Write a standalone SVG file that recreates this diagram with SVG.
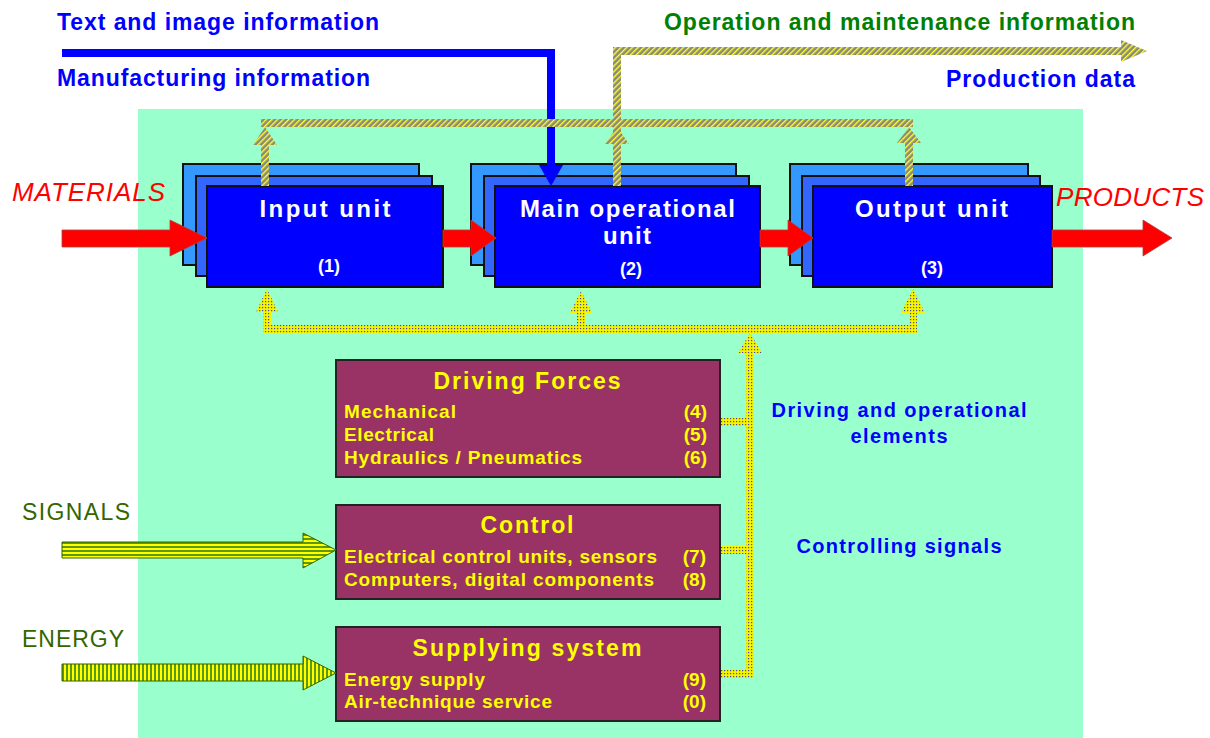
<svg xmlns="http://www.w3.org/2000/svg" width="1210" height="738" viewBox="0 0 1210 738">
<defs>
<pattern id="hatch" patternUnits="userSpaceOnUse" width="4" height="4" patternTransform="rotate(45)">
<rect width="4" height="4" fill="#8a8a78"/>
<rect width="1.4" height="4" fill="#ffff33"/>
</pattern>
<pattern id="dots" patternUnits="userSpaceOnUse" width="3" height="3">
<rect width="3" height="3" fill="#f4f400"/>
<rect x="1" y="1" width="1.2" height="1.2" fill="#4a4aa0"/>
</pattern>
<pattern id="hstripe" patternUnits="userSpaceOnUse" width="4" height="4">
<rect width="4" height="4" fill="#ffff00"/>
<rect y="2" width="4" height="2" fill="#5c9a00"/>
</pattern>
<pattern id="vstripe" patternUnits="userSpaceOnUse" width="4" height="4">
<rect width="4" height="4" fill="#ffff00"/>
<rect x="2" width="2" height="4" fill="#5c9a00"/>
</pattern>
</defs>
<style>
.t{font-family:"Liberation Sans",Arial,sans-serif;font-weight:bold}
.info{font-size:23px;fill:#0000ff}
.flow{font-size:26px;font-style:italic;fill:#ff0000;font-weight:normal}
.unit{font-size:24px;fill:#ffffff}
.num{font-size:18px;fill:#ffffff}
.ptitle{font-size:23px;fill:#ffff00}
.item{font-size:19px;fill:#ffff00}
.lbl{font-size:20px;fill:#0000ff}
.inp{font-size:23px;fill:#336600;font-weight:normal}
.b1{fill:#0000ff;stroke:#111;stroke-width:2}
.b2{fill:#3366ff;stroke:#111;stroke-width:2}
.b3{fill:#3399ff;stroke:#111;stroke-width:2}
.pb{fill:#993366;stroke:#222;stroke-width:2}
.red{fill:#ff0000;stroke:#b04040;stroke-width:0.8}
.h{fill:url(#hatch)}
.d{fill:url(#dots)}
</style>
<rect x="138" y="109" width="945" height="629" fill="#99ffcc"/>
<g id="labels">
<text class="t info" x="57" y="30" textLength="322">Text and image information</text>
<text class="t info" x="57" y="86" textLength="313">Manufacturing information</text>
<text class="t info" x="664" y="30" textLength="471" style="fill:#008000">Operation and maintenance information</text>
<text class="t info" x="946" y="87" textLength="189">Production data</text>
<text class="t flow" x="12" y="201" textLength="153">MATERIALS</text>
<text class="t flow" x="1056" y="206" textLength="148">PRODUCTS</text>
<text class="t lbl" x="899" y="417" text-anchor="middle" textLength="255">Driving and operational</text>
<text class="t lbl" x="899" y="443" text-anchor="middle" textLength="97">elements</text>
<text class="t lbl" x="899" y="553" text-anchor="middle" textLength="205">Controlling signals</text>
<text class="t inp" x="22" y="520" textLength="108">SIGNALS</text>
<text class="t inp" x="22" y="647" textLength="102">ENERGY</text>
</g>
<g id="input-unit">
<rect class="b3" x="183" y="164" width="236" height="101"/>
<rect class="b2" x="196" y="176" width="236" height="100"/>
<rect class="b1" x="207" y="186" width="236" height="101"/>
<text class="t unit" x="325" y="217" text-anchor="middle" textLength="131">Input unit</text>
<text class="t num" x="329" y="272" text-anchor="middle">(1)</text>
</g>
<g id="main-unit">
<rect class="b3" x="471" y="164" width="265" height="101"/>
<rect class="b2" x="484" y="176" width="265" height="100"/>
<rect class="b1" x="495" y="186" width="265" height="101"/>
<text class="t unit" x="627.5" y="217" text-anchor="middle" textLength="215">Main operational</text>
<text class="t unit" x="627" y="244" text-anchor="middle" textLength="48">unit</text>
<text class="t num" x="631" y="275" text-anchor="middle">(2)</text>
</g>
<g id="output-unit">
<rect class="b3" x="790" y="164" width="238" height="101"/>
<rect class="b2" x="802" y="176" width="238" height="100"/>
<rect class="b1" x="813" y="186" width="239" height="101"/>
<text class="t unit" x="931.5" y="217" text-anchor="middle" textLength="153">Output unit</text>
<text class="t num" x="932" y="274" text-anchor="middle">(3)</text>
</g>
<g id="driving-forces">
<rect class="pb" x="336" y="360" width="384" height="117"/>
<text class="t ptitle" x="527" y="389" text-anchor="middle" textLength="187">Driving Forces</text>
<text class="t item" x="344" y="418" textLength="112">Mechanical</text>
<text class="t item" x="344" y="441" textLength="90">Electrical</text>
<text class="t item" x="344" y="464" textLength="238">Hydraulics / Pneumatics</text>
<text class="t item" x="707" y="418" text-anchor="end">(4)</text>
<text class="t item" x="707" y="441" text-anchor="end">(5)</text>
<text class="t item" x="707" y="464" text-anchor="end">(6)</text>
</g>
<g id="control">
<rect class="pb" x="336" y="505" width="384" height="94"/>
<text class="t ptitle" x="527" y="533" text-anchor="middle" textLength="93">Control</text>
<text class="t item" x="344" y="563" textLength="313">Electrical control units, sensors</text>
<text class="t item" x="344" y="586" textLength="310">Computers, digital components</text>
<text class="t item" x="706" y="563" text-anchor="end">(7)</text>
<text class="t item" x="706" y="586" text-anchor="end">(8)</text>
</g>
<g id="supplying-system">
<rect class="pb" x="336" y="627" width="384" height="94"/>
<text class="t ptitle" x="527" y="656" text-anchor="middle" textLength="229">Supplying system</text>
<text class="t item" x="344" y="686" textLength="141">Energy supply</text>
<text class="t item" x="344" y="708" textLength="208">Air-technique service</text>
<text class="t item" x="706" y="686" text-anchor="end">(9)</text>
<text class="t item" x="706" y="708" text-anchor="end">(0)</text>
</g>
<g id="connectors">
<path d="M62 53H551V166" fill="none" stroke="#0000ff" stroke-width="8"/>
<polygon points="539,165 563,165 551,186" fill="#0000ff"/>
<polygon class="red" points="62,230 170,230 170,220 207,238 170,256 170,247 62,247"/>
<polygon class="red" points="443,230 471,230 471,220 496,238 471,256 471,247 443,247"/>
<polygon class="red" points="760,230 788,230 788,220 813,238 788,256 788,247 760,247"/>
<polygon class="red" points="1052,230 1143,230 1143,220 1172,238 1143,256 1143,247 1052,247"/>
<polygon points="62,542 303,542 303,533 336,550 303,568 303,558 62,558" fill="url(#hstripe)" stroke="#336600" stroke-width="1"/>
<polygon points="62,664 303,664 303,656 336,673 303,690 303,681 62,681" fill="url(#vstripe)" stroke="#336600" stroke-width="1"/>
<rect class="h" x="261" y="119" width="652" height="8"/>
<rect class="h" x="261" y="140" width="8" height="46"/>
<polygon class="h" points="253,145 277,145 265,127"/>
<rect class="h" x="613" y="47" width="8" height="139"/>
<polygon class="h" points="605,144 629,144 617,127"/>
<rect class="h" x="905" y="140" width="8" height="46"/>
<polygon class="h" points="897,143 921,143 909,127"/>
<rect class="h" x="613" y="47" width="510" height="8"/>
<polygon class="h" points="1121,40 1121,62 1147,51"/>
<rect class="d" x="263" y="325" width="654" height="8"/>
<rect class="d" x="263" y="308" width="8" height="25"/>
<polygon class="d" points="256,312 278,312 267,289"/>
<rect class="d" x="577" y="308" width="8" height="20"/>
<polygon class="d" points="570,313 592,313 581,291"/>
<rect class="d" x="909" y="308" width="8" height="25"/>
<polygon class="d" points="901,313 925,313 913,289"/>
<rect class="d" x="746" y="348" width="8" height="330"/>
<polygon class="d" points="738,353 762,353 750,333"/>
<rect class="d" x="721" y="418" width="30" height="8"/>
<rect class="d" x="721" y="546" width="30" height="8"/>
<rect class="d" x="721" y="670" width="30" height="8"/>
</g>
</svg>
